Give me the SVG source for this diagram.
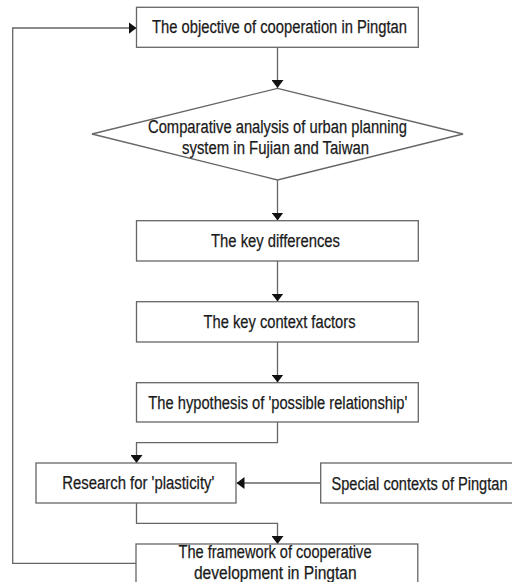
<svg xmlns="http://www.w3.org/2000/svg" width="512" height="582" viewBox="0 0 512 582">
<style>
.box{fill:#fff;stroke:#666;stroke-width:1.3}
.t{font-family:"Liberation Sans",Arial,sans-serif;font-size:18px;fill:#1a1a1a;stroke:#1a1a1a;stroke-width:0.25;text-anchor:middle}
.c{fill:none;stroke:#666;stroke-width:1.3}
</style>
<defs>
<marker id="ah" viewBox="0 0 8 12" refX="8" refY="6" markerWidth="8" markerHeight="12" markerUnits="userSpaceOnUse" orient="auto">
<path d="M0,0 L8,6 L0,12 Z" fill="#111"/>
</marker>
</defs>
<rect width="512" height="582" fill="#fff"/>
<g id="connectors">
<path class="c" d="M277.5,47.3 V88" marker-end="url(#ah)"/>
<path class="c" d="M277.5,180 V220.5" marker-end="url(#ah)"/>
<path class="c" d="M277.5,261 V301.5" marker-end="url(#ah)"/>
<path class="c" d="M277.5,342 V382.5" marker-end="url(#ah)"/>
<path class="c" d="M277.5,422 V442.7 H136.5 V463" marker-end="url(#ah)"/>
<path class="c" d="M320.7,483 H236.5" marker-end="url(#ah)"/>
<path class="c" d="M136.5,503 V523.3 H277.5 V544" marker-end="url(#ah)"/>
<path class="c" d="M136.5,563.3 H12.7 V28 H136.5" marker-end="url(#ah)"/>
</g>
<g id="objective">
<rect class="box" x="136.5" y="7.3" width="281.8" height="40"/>
<text class="t" x="279.5" y="32.5" textLength="255" lengthAdjust="spacingAndGlyphs">The objective of cooperation in Pingtan</text>
</g>
<g id="comparative">
<polygon class="box" points="277.5,88.3 463,134 277.5,180 92,134"/>
<text class="t" x="277.5" y="132.5" textLength="259" lengthAdjust="spacingAndGlyphs">Comparative analysis of urban planning</text>
<text class="t" x="275.5" y="154" textLength="187" lengthAdjust="spacingAndGlyphs">system in Fujian and Taiwan</text>
</g>
<g id="differences">
<rect class="box" x="136.5" y="220.7" width="281.8" height="40.3"/>
<text class="t" x="275.5" y="247" textLength="129" lengthAdjust="spacingAndGlyphs">The key differences</text>
</g>
<g id="context">
<rect class="box" x="136.5" y="301.7" width="281.8" height="40.3"/>
<text class="t" x="279.5" y="328" textLength="152" lengthAdjust="spacingAndGlyphs">The key context factors</text>
</g>
<g id="hypothesis">
<rect class="box" x="136.5" y="382.7" width="281.8" height="39.3"/>
<text class="t" x="277.8" y="408.5" textLength="259" lengthAdjust="spacingAndGlyphs">The hypothesis of 'possible relationship'</text>
</g>
<g id="research">
<rect class="box" x="36" y="463" width="200" height="40"/>
<text class="t" x="138.3" y="489" textLength="152" lengthAdjust="spacingAndGlyphs">Research for 'plasticity'</text>
</g>
<g id="special">
<rect class="box" x="320.7" y="463" width="200" height="40"/>
<text class="t" x="419.5" y="489.5" textLength="176" lengthAdjust="spacingAndGlyphs">Special contexts of Pingtan</text>
</g>
<g id="framework">
<rect class="box" x="136" y="544" width="281.8" height="50"/>
<text class="t" x="275" y="557.7" textLength="193" lengthAdjust="spacingAndGlyphs">The framework of cooperative</text>
<text class="t" x="275.3" y="579.3" textLength="162.7" lengthAdjust="spacingAndGlyphs">development in Pingtan</text>
</g>
</svg>
